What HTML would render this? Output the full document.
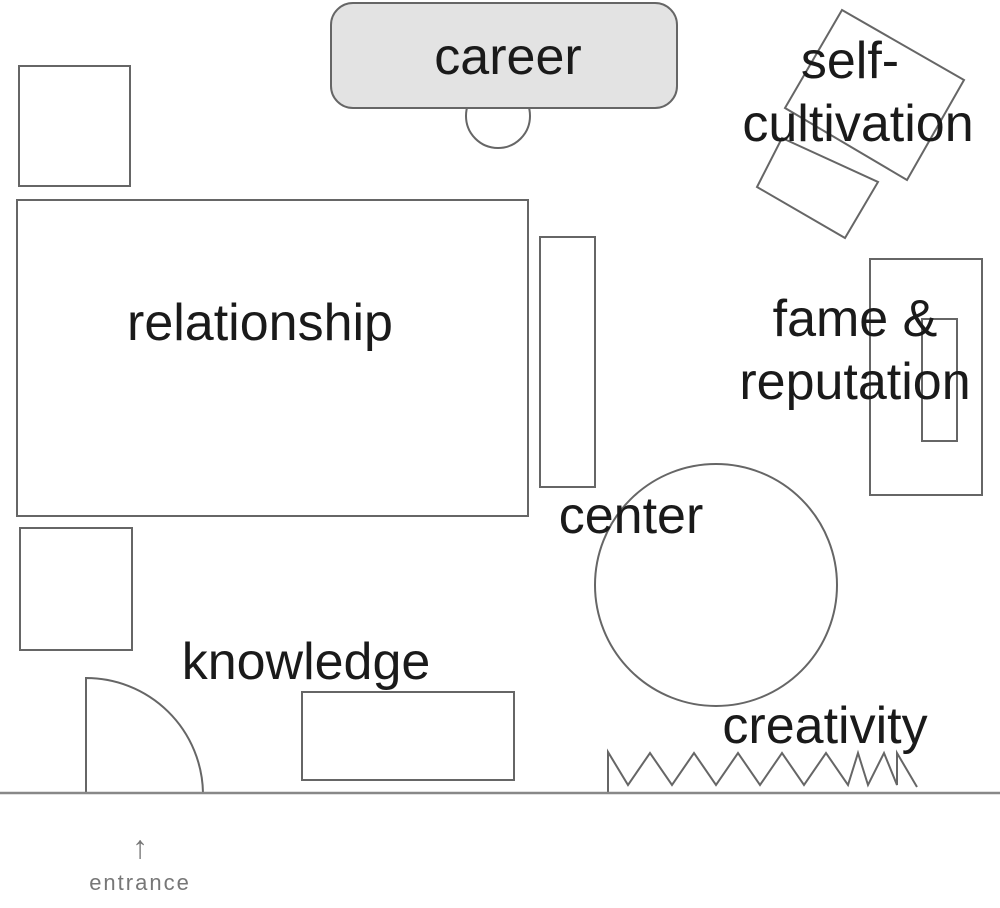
<!DOCTYPE html>
<html><head><meta charset="utf-8"><style>
body{margin:0;background:#fff}
svg text{font-family:"Liberation Sans",sans-serif;fill:#1a1a1a}
</style></head><body>
<svg width="1000" height="903" viewBox="0 0 1000 903" xmlns="http://www.w3.org/2000/svg">
<g fill="none" stroke="#666" stroke-width="2">
<circle cx="498" cy="116" r="32"/>
<rect x="331" y="3" width="346" height="105" rx="22" fill="#e3e3e3"/>
<rect x="19" y="66" width="111" height="120"/>
<rect x="17" y="200" width="511" height="316"/>
<rect x="540" y="237" width="55" height="250"/>
<rect x="20" y="528" width="112" height="122"/>
<rect x="302" y="692" width="212" height="88"/>
<path d="M86 793 V678 A117 117 0 0 1 203 793"/>
<circle cx="716" cy="585" r="121"/>
<rect x="870" y="259" width="112" height="236"/>
<rect x="922" y="319" width="35" height="122"/>
<polygon points="842,10 964,80 907,180 785,108"/>
<polygon points="782,138 878,182 845,238 757,187"/>
<polyline points="608,792 608,752 628,785 650,753 672,785 694,753 716,785 738,753 760,785 782,753 804,785 826,753 848,785 858,753 868,785 884,753 897,785 897,753 917,787"/>
<line x1="0" y1="793" x2="1000" y2="793" stroke="#888" stroke-width="2.5"/>
</g>
<g font-size="52">
<text x="508" y="74" text-anchor="middle">career</text>
<text x="260" y="340" text-anchor="middle">relationship</text>
<text x="850" y="78" text-anchor="middle">self-</text>
<text x="858" y="141" text-anchor="middle">cultivation</text>
<text x="855" y="336" text-anchor="middle">fame &amp;</text>
<text x="855" y="399" text-anchor="middle">reputation</text>
<text x="631" y="533" text-anchor="middle">center</text>
<text x="306" y="679" text-anchor="middle">knowledge</text>
<text x="825" y="743" text-anchor="middle">creativity</text>
</g>
<text x="140" y="858" font-size="32" text-anchor="middle" style="fill:#777">↑</text>
<text x="140" y="890" font-size="22" text-anchor="middle" letter-spacing="2" style="fill:#777">entrance</text>
</svg>
</body></html>
